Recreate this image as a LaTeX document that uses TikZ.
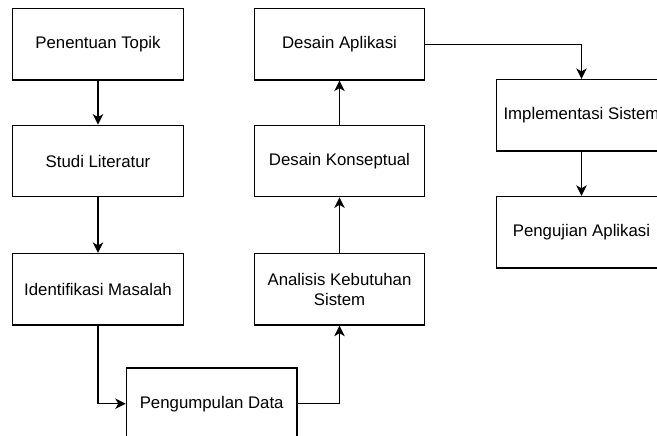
\documentclass[tikz,border=0pt]{standalone}
\usepackage{fontspec}
\setmainfont{Liberation Sans}
\usetikzlibrary{arrows.meta}
\begin{document}
\begin{tikzpicture}[x=1pt,y=-1pt,
  box/.style={draw=black, line width=1.3pt, minimum width=170.6pt, minimum height=71.5pt, inner sep=0pt, align=center, font=\fontsize{16.8pt}{19.5pt}\selectfont},
  flow/.style={draw=black, line width=1.3pt, -{Stealth[length=10.5pt,width=10.5pt,inset=3pt]}}]
\useasboundingbox (0,0) rectangle (657,436);
\node[box] (A) at (98,44.2) {Penentuan Topik};
\node[box] (B) at (98,161) {Studi Literatur};
\node[box] (C) at (98,289.3) {Identifikasi Masalah};
\node[box] (D) at (211.7,403.7) {Pengumpulan Data};
\node[box] (E) at (339.5,289.3) {Analisis Kebutuhan\\Sistem};
\node[box] (F) at (339.5,161) {Desain Konseptual};
\node[box] (G) at (339.5,44.2) {Desain Aplikasi};
\node[box] (H) at (581.5,115.3) {Implementasi Sistem};
\node[box] (I) at (581.5,232.2) {Pengujian Aplikasi};
\draw[flow] (A) -- (B);
\draw[flow] (B) -- (C);
\draw[flow] (C.south) |- (D.west);
\draw[flow] (D.east) -| (E.south);
\draw[flow] (E) -- (F);
\draw[flow] (F) -- (G);
\draw[flow] (G.east) -| (H.north);
\draw[flow] (H) -- (I);
\end{tikzpicture}
\end{document}
